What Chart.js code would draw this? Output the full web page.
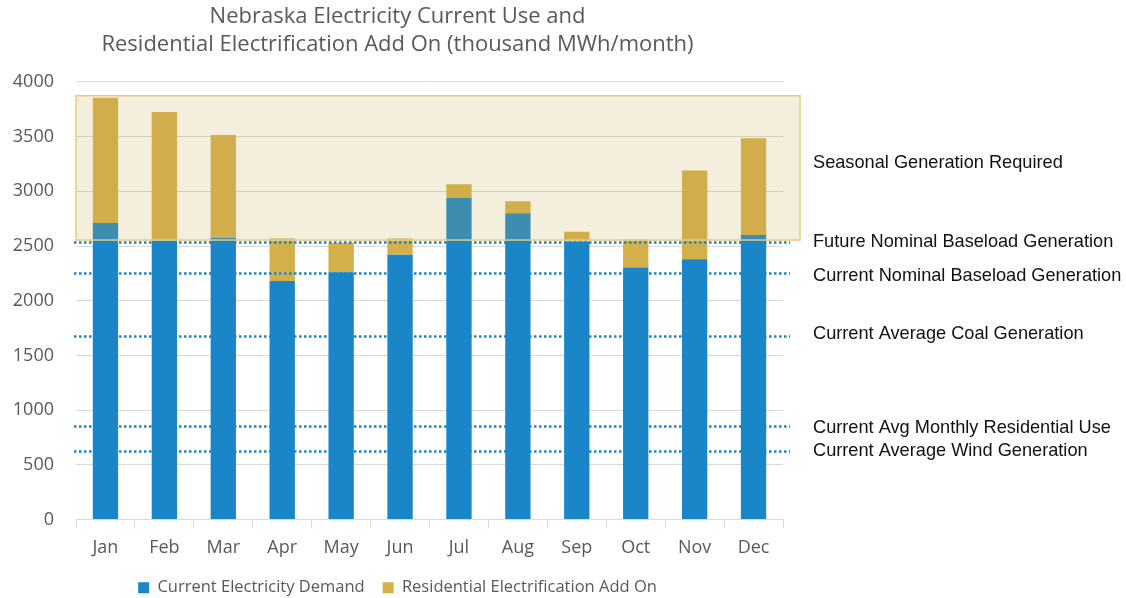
<!DOCTYPE html>
<html>
<head>
<meta charset="utf-8">
<script src="https://cdn.jsdelivr.net/npm/chart.js@4.4.1/dist/chart.umd.min.js"></script>
<style>
  html, body { margin: 0; padding: 0; background: #fff; }
  #wrap { width: 1126px; height: 598px; }
</style>
</head>
<body>
<div id="wrap"><canvas id="chart" width="1126" height="598"></canvas></div>
<script>
const months = ['Jan', 'Feb', 'Mar', 'Apr', 'May', 'Jun', 'Jul', 'Aug', 'Sep', 'Oct', 'Nov', 'Dec'];
const currentDemand = [2710, 2550, 2575, 2180, 2260, 2420, 2940, 2800, 2540, 2305, 2380, 2600];
const addOn = [1145, 1175, 940, 390, 270, 150, 125, 110, 90, 255, 810, 885];
const yTicks = [0, 500, 1000, 1500, 2000, 2500, 3000, 3500, 4000];

// horizontal reference levels (dotted) and their labels
const refLevels = [2535, 2252, 1675, 851, 625];
const refLabels = [
    'Future Nominal Baseload Generation',
    'Current Nominal Baseload Generation',
    'Current Average Coal Generation',
    'Current Avg Monthly Residential Use',
    'Current Average Wind Generation'
];
const labelOffsets = [0, 3, -2, 2, 0];

// seasonal band
const seasonalBand = [2555, 3875];
const seasonalLabel = 'Seasonal Generation Required';

const blue = '#1a86c7';
const gold = '#d4b04a';

const overlayPlugin = {
    id: 'overlay',
    afterDatasetsDraw(chart) {
        const ctx = chart.ctx;
        const y = chart.scales.y;
        const area = chart.chartArea;
        const left = area.left;
        const right = area.right + 17;

        // shaded band
        const top = y.getPixelForValue(seasonalBand[1]);
        const bot = y.getPixelForValue(seasonalBand[0]);
        ctx.save();
        ctx.fillStyle = 'rgba(200, 170, 80, 0.2)';
        ctx.fillRect(left, top, right - left, bot - top);
        ctx.strokeStyle = '#e2cc84';
        ctx.lineWidth = 1.5;
        ctx.strokeRect(left, top, right - left, bot - top);

        // dotted lines
        ctx.strokeStyle = blue;
        ctx.lineWidth = 2.5;
        ctx.setLineDash([2.5, 2.5]);
        refLevels.forEach(v => {
            const py = Math.round(y.getPixelForValue(v)) + 0.5;
            ctx.beginPath();
            ctx.moveTo(area.left - 2, py);
            ctx.lineTo(area.right + 7, py);
            ctx.stroke();
        });
        ctx.setLineDash([]);

        // right labels
        ctx.fillStyle = '#111';
        ctx.font = '18.2px "Liberation Sans", Arial, sans-serif';
        ctx.textBaseline = 'middle';
        ctx.textAlign = 'left';
        const tx = area.right + 30;
        ctx.fillText(seasonalLabel, tx, (top + bot) / 2 - 5);
        refLevels.forEach((v, i) => {
            ctx.fillText(refLabels[i], tx, y.getPixelForValue(v) + labelOffsets[i]);
        });
        ctx.restore();
    }
};

new Chart(document.getElementById('chart').getContext('2d'), {
    type: 'bar',
    data: {
        labels: months,
        datasets: [{
            label: 'Current Electricity Demand',
            data: currentDemand,
            backgroundColor: blue,
            borderWidth: 0
        }, {
            label: 'Residential Electrification Add On',
            data: addOn,
            backgroundColor: gold,
            borderWidth: 0
        }]
    },
    options: {
        responsive: false,
        animation: false,
        devicePixelRatio: 1,
        layout: { padding: { left: 12, right: 343, top: 0, bottom: -8 } },
        datasets: { bar: { categoryPercentage: 0.86, barPercentage: 0.5 } },
        plugins: {
            title: {
                display: true,
                text: ['Nebraska Electricity Current Use and', 'Residential Electrification Add On (thousand MWh/month)'],
                color: '#595959',
                font: { family: '"Open Sans", sans-serif', size: 22, weight: 'normal', lineHeight: 1.2727 },
                padding: { top: 3, bottom: 23 }
            },
            legend: {
                position: 'bottom',
                labels: {
                    color: '#595959',
                    font: { family: '"Open Sans", sans-serif', size: 16.5 },
                    boxWidth: 11,
                    boxHeight: 11,
                    padding: 18
                }
            },
            tooltip: { enabled: false }
        },
        scales: {
            x: {
                stacked: true,
                afterFit(scale) { scale.height = 42; },
                grid: { display: true, drawOnChartArea: false, drawTicks: true, tickLength: 8, offset: true, color: '#d9d9d9' },
                border: { color: '#d9d9d9' },
                ticks: { color: '#595959', font: { family: '"Open Sans", sans-serif', size: 18 }, padding: 10 }
            },
            y: {
                stacked: true,
                min: 0,
                max: 4000,
                afterFit(scale) { scale.width = 64; },
                afterBuildTicks(scale) { scale.ticks = yTicks.map(v => ({ value: v })); },
                grid: { color: '#d9d9d9', drawTicks: false },
                border: { display: false },
                ticks: {
                    color: '#595959',
                    font: { family: '"Open Sans", sans-serif', size: 18 },
                    padding: 22,
                    callback: v => String(v)
                }
            }
        }
    },
    plugins: [overlayPlugin]
});
</script>
</body>
</html>
